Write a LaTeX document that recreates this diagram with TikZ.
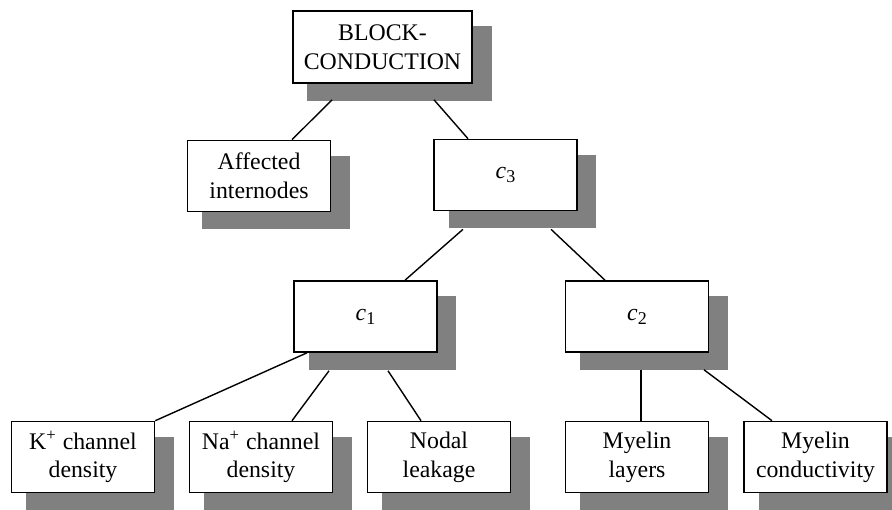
\documentclass[tikz,border=0pt]{standalone}
\usepackage{fontspec}
\setmainfont{Liberation Serif}
\usetikzlibrary{calc,shadows}
\tikzset{
  blk/.style={draw, fill=white, line width=0.8pt, minimum width=71.5pt, minimum height=35.5pt,
    inner sep=0pt, align=center, font=\fontsize{11.9}{14.3}\selectfont,
    drop shadow={shadow xshift=8.25pt, shadow yshift=-8pt, shadow scale=1.03, opacity=1, fill=black!50}},
  link/.style={line width=0.7pt}
}
\newcommand{\csub}[1]{\textit{c}\raisebox{-0.35ex}{\small #1}}

\begin{document}
\begin{tikzpicture}[x=0.5pt, y=-0.5pt]
		%%%%% START %%%%%
		\useasboundingbox (0, 0) rectangle (892, 509);
		
		\node[blk, minimum width=89.5pt, minimum height=36pt] (top) at (382.5, 47) {BLOCK-\\CONDUCTION};
		
		\node[blk] (aff) at (259, 176) {Affected\\internodes};
		\node[blk] (c3) at (505.5, 175) {\csub{3}};
		
		\node[blk] (c1) at (365.5, 316.5) {\csub{1}};
		\node[blk] (c2) at (637, 316.5) {\csub{2}};
		
		\node[blk] (kch) at (83, 457) {K\textsuperscript{+} channel\\density};
		\node[blk] (nach) at (261, 457) {Na\textsuperscript{+} channel\\density};
		\node[blk] (nod) at (439, 457) {Nodal\\leakage};
		\node[blk] (myl) at (637, 457) {Myelin\\layers};
		\node[blk] (myc) at (815.5, 457) {Myelin\\conductivity};
		
		\draw[link] ($(top.south)+(-50.5, 16)$) -- ($(aff.north)+(33, 0)$);
		\draw[link] ($(top.south)+(51.5, 16)$) -- ($(c3.north)+(-37.5, 0)$);
		
		\draw[link] ($(c3.south)+(-42.5, 18)$) -- ($(c1.north)+(39.5, 0)$);
		\draw[link] ($(c3.south)+(45.5, 18)$) -- ($(c2.north)+(-32, 0)$);
		
		\draw[link] ($(c1.south)+(-58.5, 0)$) -- (kch.north east);
		\draw[link] ($(c1.south)+(-36.5, 18)$) -- ($(nach.north)+(31, 0)$);
		\draw[link] ($(c1.south)+(22.5, 18)$) -- ($(nod.north)+(-18, 0)$);
		
		\draw[link] ($(c2.south)+(4, 17)$) -- ($(myl.north)+(4, 0)$);
		\draw[link] ($(c2.south)+(67, 17)$) -- ($(myc.north)+(-43.5, 0)$);
		
		%%%%% END %%%%%
	\end{tikzpicture}
\end{document}
